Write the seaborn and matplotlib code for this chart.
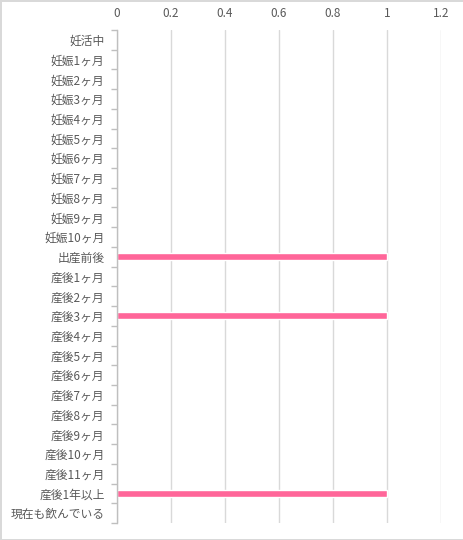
import matplotlib
matplotlib.use("Agg")
import matplotlib.pyplot as plt
import seaborn as sns
import pandas as pd
import numpy as np

categories = ["妊活中", "妊娠1ヶ月", "妊娠2ヶ月", "妊娠3ヶ月", "妊娠4ヶ月", "妊娠5ヶ月",
              "妊娠6ヶ月", "妊娠7ヶ月", "妊娠8ヶ月", "妊娠9ヶ月", "妊娠10ヶ月", "出産前後",
              "産後1ヶ月", "産後2ヶ月", "産後3ヶ月", "産後4ヶ月", "産後5ヶ月", "産後6ヶ月",
              "産後7ヶ月", "産後8ヶ月", "産後9ヶ月", "産後10ヶ月", "産後11ヶ月", "産後1年以上",
              "現在も飲んでいる"]
values = [0, 0, 0, 0, 0, 0, 0, 0, 0, 0, 0, 1, 0, 0, 1, 0, 0, 0, 0, 0, 0, 0, 0, 1, 0]
xticks = [0, 0.2, 0.4, 0.6, 0.8, 1, 1.2]
xtick_labels = ["0", "0.2", "0.4", "0.6", "0.8", "1", "1.2"]

sns.set_style("white")
plt.rcParams['font.family'] = ['Noto Sans CJK JP', 'DejaVu Sans']

df = pd.DataFrame({"cat": categories, "val": values})

fig = plt.figure(figsize=(4.64, 5.40), dpi=100)
fig.patch.set_edgecolor("#d9d9d9")
fig.patch.set_linewidth(2)
ax = fig.add_axes([117/464, 1 - 523/540, (441 - 117)/464, (523 - 30)/540])

sns.barplot(data=df, x="val", y="cat", order=categories, color="#ff6699",
            width=0.35, ax=ax, saturation=1, orient="h")

ax.set_xlim(0, 1.2)
ax.set_ylim(len(categories) - 0.5, -0.5)
ax.set_xticks(xticks)
ax.set_xticklabels(xtick_labels)
ax.xaxis.tick_top()
ax.set_xlabel("")
ax.set_ylabel("")
ax.grid(axis="x", color="#d9d9d9", linewidth=1)
ax.set_axisbelow(True)
for s in ["top", "right", "bottom"]:
    ax.spines[s].set_visible(False)
ax.spines["left"].set_color("#bfbfbf")
ax.spines["left"].set_linewidth(1)

ax.tick_params(axis="x", length=0, labelsize=8.5, colors="#595959", pad=7)
ax.tick_params(axis="y", which="major", left=False, length=0, labelsize=8.5,
               colors="#595959", pad=9)
ax.set_yticks(np.arange(-0.5, len(categories)), minor=True)
ax.tick_params(axis="y", which="minor", left=True, length=4, color="#bfbfbf", width=1)

fig.savefig("out.png", dpi=100, edgecolor=fig.get_edgecolor())
